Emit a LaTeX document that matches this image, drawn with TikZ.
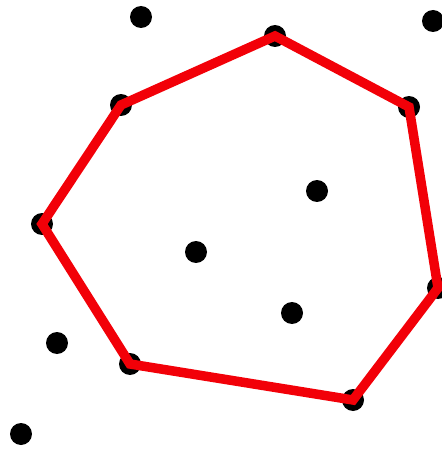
\documentclass[tikz,border=0pt]{standalone}
\usepackage{xcolor}
\usepackage{tikz}
\definecolor{hullred}{RGB}{242,0,8}

\begin{document}
\begin{tikzpicture}[
    x=0.02cm, y=-0.02cm,
    pt/.style={circle, fill=black, inner sep=0pt, minimum size=0.44cm},
    hull/.style={draw=hullred, line width=0.19cm, line join=miter}
]
\useasboundingbox (0,0) rectangle (442,449);
% point set
\node[pt] (p1) at (141,17) {};
\node[pt] (p2) at (433,21) {};
\node[pt] (p3) at (275,36) {};
\node[pt] (p4) at (121,105) {};
\node[pt] (p5) at (409,107) {};
\node[pt] (p6) at (317,191) {};
\node[pt] (p7) at (42,224) {};
\node[pt] (p8) at (196,252) {};
\node[pt] (p9) at (438,288) {};
\node[pt] (p10) at (292,313) {};
\node[pt] (p11) at (57,343) {};
\node[pt] (p12) at (130,364) {};
\node[pt] (p13) at (353,400) {};
\node[pt] (p14) at (21,434) {};

% convex hull
\draw[hull] (p3.center) -- (p5.center) -- (p9.center) -- (p13.center)
    -- (p12.center) -- (p7.center) -- (p4.center) -- cycle;
\end{tikzpicture}
\end{document}
